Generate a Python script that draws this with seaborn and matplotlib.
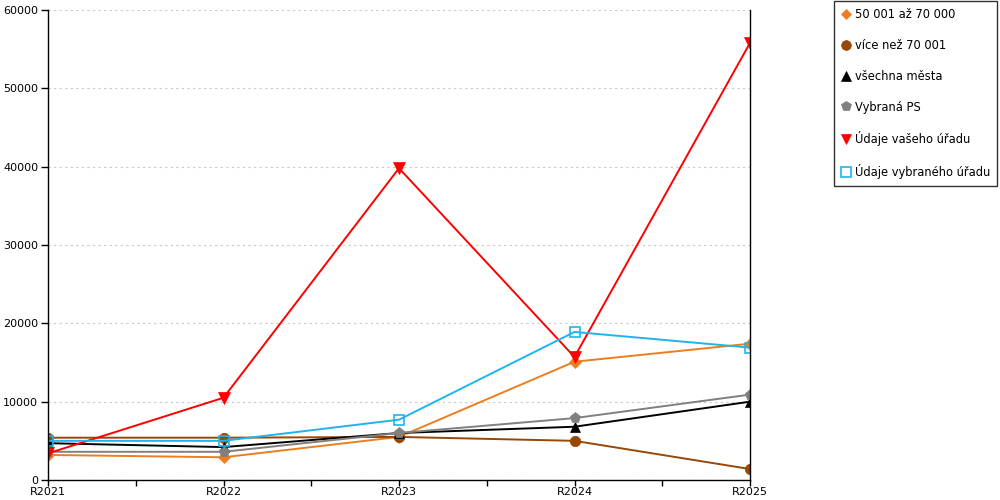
import pandas as pd
import matplotlib
matplotlib.use("Agg")
import matplotlib.pyplot as plt
import seaborn as sns
from matplotlib.lines import Line2D

# data
years = ["R2021", "R2022", "R2023", "R2024", "R2025"]
labels = ["50 001 až 70 000", "více než 70 001", "všechna města",
          "Vybraná PS", "Údaje vašeho úřadu", "Údaje vybraného úřadu"]
v_50_70 = [3200, 2900, 5500, 15100, 17400]
v_nad_70 = [5400, 5400, 5500, 5000, 1400]
v_vsechna = [4700, 4200, 6000, 6800, 10000]
v_ps = [3600, 3600, 6000, 7900, 10900]
v_vas = [3400, 10500, 39800, 15700, 55800]
v_vybrany = [5000, 5000, 7700, 18900, 16900]

colors = ["#ed7d1f", "#974706", "#000000", "#808080", "#ff0000", "#1fb4ec"]
markers = ["D", "o", "^", "p", "v", "s"]
sizes = [6, 7.5, 7.5, 8, 8, 7.5]

series = [v_50_70, v_nad_70, v_vsechna, v_ps, v_vas, v_vybrany]
df = pd.DataFrame({
    "rok": years * len(labels),
    "skupina": [lab for lab in labels for _ in years],
    "hodnota": [v for s in series for v in s],
})
df["pos"] = df["rok"].map({y: i for i, y in enumerate(years)})

sns.set_style("white")
plt.rcParams["font.family"] = ["DejaVu Sans"]
plt.rcParams["text.color"] = "black"
plt.rcParams["xtick.color"] = "black"
plt.rcParams["ytick.color"] = "black"

fig = plt.figure(figsize=(10, 5), dpi=100)
ax = fig.add_axes([0.048, 0.04, 0.702, 0.94])

handles = []
for lab, col, mk, ms in zip(labels, colors, markers, sizes):
    sub = df[df["skupina"] == lab]
    hollow = mk == "s"
    sns.lineplot(data=sub, x="pos", y="hodnota", ax=ax, color=col, lw=1.4,
                 marker=mk, markersize=ms,
                 markerfacecolor="none" if hollow else col,
                 markeredgecolor=col, markeredgewidth=1.2 if hollow else 0.5,
                 legend=False)
    handles.append(Line2D([], [], ls="none", marker=mk, markersize=ms - 0.5,
                          markerfacecolor="none" if hollow else col,
                          markeredgecolor=col, markeredgewidth=1.2 if hollow else 0.5,
                          label=lab))

ax.set_xlim(0, len(years) - 1)
ax.set_ylim(0, 60000)
ax.set_xticks(range(len(years)))
ax.set_xticklabels(years)
ax.set_xticks([i + 0.5 for i in range(len(years) - 1)], minor=True)
ax.set_yticks(range(0, 60001, 10000))
ax.set_xlabel("")
ax.set_ylabel("")
ax.tick_params(axis="both", which="both", direction="out", length=4,
               width=1, color="black", labelsize=8, pad=1, bottom=True, left=True)
ax.tick_params(axis="y", length=5, pad=2)
ax.grid(axis="y", color="#c8c8c8", ls=(0, (2, 3)), lw=0.8)
ax.set_axisbelow(True)
for side in ["left", "bottom", "right"]:
    ax.spines[side].set_visible(True)
    ax.spines[side].set_color("black")
    ax.spines[side].set_linewidth(1)
ax.spines["top"].set_visible(False)

leg = fig.legend(handles=handles, loc="upper left", bbox_to_anchor=(0.834, 0.998),
                 frameon=True, fancybox=False, edgecolor="black", fontsize=8.3,
                 labelspacing=1.55, handlelength=0.8, handletextpad=0.4,
                 borderpad=0.6, borderaxespad=0.0)
leg.get_frame().set_linewidth(1)

fig.savefig("out.png", dpi=100)
